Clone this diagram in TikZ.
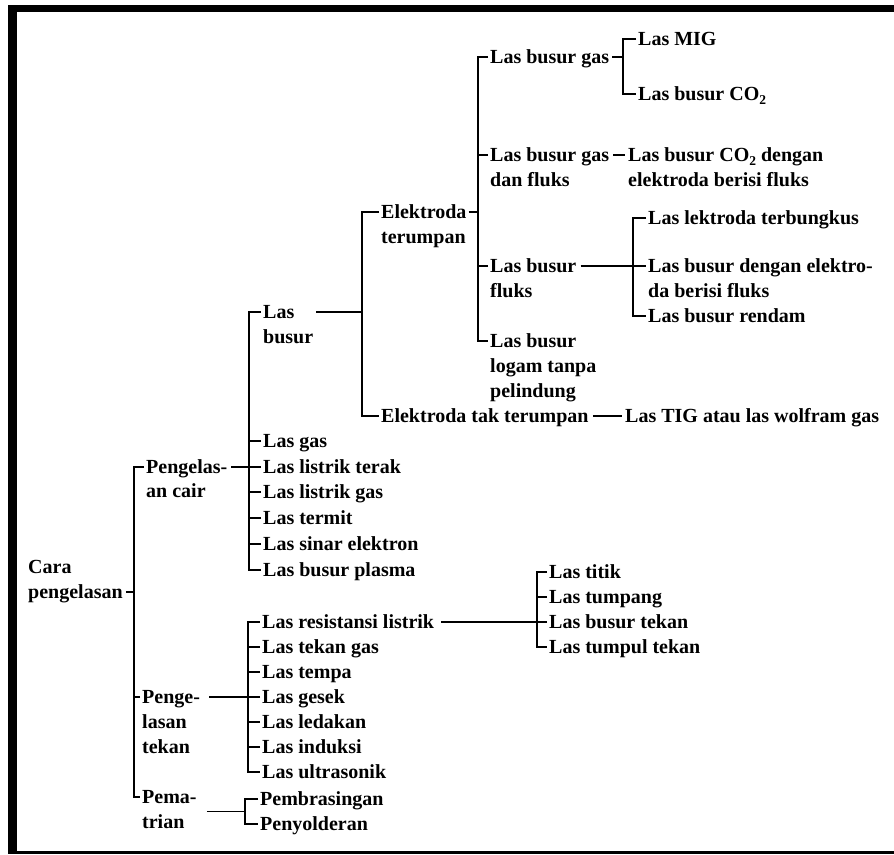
\documentclass[tikz,border=0pt]{standalone}
\usepackage{fontspec}
\setmainfont{Liberation Serif}
\usetikzlibrary{calc}
\newcommand{\cotwo}{CO\raisebox{-3.5pt}{\fontsize{13.5}{13.5}\selectfont 2}}
\begin{document}
\begin{tikzpicture}[x=1pt,y=-1pt,
  lbl/.style={anchor=west,inner sep=0pt,font=\bfseries\fontsize{20}{25}\selectfont,text height=13.5pt,text depth=0pt},
  ln/.style={line width=1.4pt}]
\useasboundingbox (0,0) rectangle (894,854);
\fill[white] (0,0) rectangle (894,854);
% frame
\fill[black] (8,5) rectangle (894,12);
\fill[black] (8,5) rectangle (17,854);
\fill[black] (17,851) rectangle (894,854);

% vertical line positions
\coordinate (v0) at (134,0);
\coordinate (v1) at (249,0);
\coordinate (v2) at (362,0);
\coordinate (v3) at (478,0);
\coordinate (v4) at (248,0);
\coordinate (v5) at (245,0);
\coordinate (v6) at (623,0);
\coordinate (v7) at (633,0);
\coordinate (v8) at (537,0);

% root
\node[lbl] (cara) at (28,567) {Cara};
\node[lbl] (peng) at (28,592) {pengelasan};

% level 1
\node[lbl] (pc1) at (146,467) {Pengelas-};
\node[lbl] (pc2) at (146,491) {an cair};
\node[lbl] (pt1) at (142,697) {Penge-};
\node[lbl] (pt2) at (142,722) {lasan};
\node[lbl] (pt3) at (142,747) {tekan};
\node[lbl] (pm1) at (142,797) {Pema-};
\node[lbl] (pm2) at (142,822) {trian};

% pengelasan cair children
\node[lbl] (lb1) at (263,312) {Las};
\node[lbl] (lb2) at (263,337) {busur};
\node[lbl] (lgas) at (263,441) {Las gas};
\node[lbl] (lterak) at (263,467) {Las listrik terak};
\node[lbl] (lgasl) at (263,492) {Las listrik gas};
\node[lbl] (ltermit) at (263,518) {Las termit};
\node[lbl] (lsinar) at (263,544) {Las sinar elektron};
\node[lbl] (lplasma) at (263,570) {Las busur plasma};

% pengelasan tekan children
\node[lbl] (lres) at (262,622) {Las resistansi listrik};
\node[lbl] (ltg) at (262,647) {Las tekan gas};
\node[lbl] (ltempa) at (262,672) {Las tempa};
\node[lbl] (lgesek) at (262,697) {Las gesek};
\node[lbl] (lledak) at (262,722) {Las ledakan};
\node[lbl] (linduk) at (262,747) {Las induksi};
\node[lbl] (lultra) at (262,772) {Las ultrasonik};

% pematrian children
\node[lbl] (pbr) at (260,799) {Pembrasingan};
\node[lbl] (pny) at (260,824) {Penyolderan};

% resistansi children
\node[lbl] (ltitik) at (549,572) {Las titik};
\node[lbl] (ltumpang) at (549,597) {Las tumpang};
\node[lbl] (lbt) at (549,622) {Las busur tekan};
\node[lbl] (ltt) at (549,647) {Las tumpul tekan};

% las busur children
\node[lbl] (et1) at (381,212) {Elektroda};
\node[lbl] (et2) at (381,237) {terumpan};
\node[lbl] (ett) at (381,416) {Elektroda tak terumpan};
\node[lbl] (tig) at (625,416) {Las TIG atau las wolfram gas};

% elektroda terumpan children
\node[lbl] (lbg) at (490,57) {Las busur gas};
\node[lbl] (mig) at (638,39) {Las MIG};
\node[lbl] (co2) at (638,94) {Las busur \cotwo};
\node[lbl] (lbgf1) at (490,155) {Las busur gas};
\node[lbl] (lbgf2) at (490,180) {dan fluks};
\node[lbl] (co2f1) at (628,155) {Las busur \cotwo\ dengan};
\node[lbl] (co2f2) at (628,180) {elektroda berisi fluks};
\node[lbl] (lbf1) at (490,266) {Las busur};
\node[lbl] (lbf2) at (490,291) {fluks};
\node[lbl] (lek) at (648,218) {Las lektroda terbungkus};
\node[lbl] (lbd1) at (648,266) {Las busur dengan elektro-};
\node[lbl] (lbd2) at (648,291) {da berisi fluks};
\node[lbl] (lrend) at (648,316) {Las busur rendam};
\node[lbl] (lbl1) at (490,341) {Las busur};
\node[lbl] (lbl2) at (490,366) {logam tanpa};
\node[lbl] (lbl3) at (490,391) {pelindung};

% ---------- connectors ----------
% root
\draw[ln] ([xshift=3pt]peng.east) -- (peng.east -| v0);
\draw[ln] ([xshift=-2pt]pc1.west) -- (pc1.west -| v0) -- (pm1.west -| v0) -- ([xshift=-2pt]pm1.west);
\draw[ln] ([xshift=-2pt]pt1.west) -- (pt1.west -| v0);

% pengelasan cair
\draw[ln] ([xshift=4pt]pc1.east) -- (pc1.east -| v1);
\draw[ln] ([xshift=-2pt]lb1.west) -- (lb1.west -| v1) -- (lplasma.west -| v1) -- ([xshift=-2pt]lplasma.west);
\foreach \n in {lgas,lterak,lgasl,ltermit,lsinar}
  \draw[ln] ([xshift=-2pt]\n.west) -- (\n.west -| v1);

% pengelasan tekan
\draw[ln] ([xshift=9pt]pt1.east) -- (pt1.east -| v4);
\draw[ln] ([xshift=-2pt]lres.west) -- (lres.west -| v4) -- (lultra.west -| v4) -- ([xshift=-2pt]lultra.west);
\foreach \n in {ltg,ltempa,lgesek,lledak,linduk}
  \draw[ln] ([xshift=-2pt]\n.west) -- (\n.west -| v4);

% pematrian
\coordinate (pmj) at ($(pbr.west)!0.5!(pny.west)$);
\coordinate (pms) at ([xshift=10pt]pm1.east);
\draw[ln] (pmj -| pms) -- (pmj -| v5);
\draw[ln] ([xshift=-2pt]pbr.west) -- (pbr.west -| v5) -- (pny.west -| v5) -- ([xshift=-2pt]pny.west);

% resistansi listrik
\draw[ln] ([xshift=7pt]lres.east) -- (lres.east -| v8);
\draw[ln] ([xshift=-2pt]ltitik.west) -- (ltitik.west -| v8) -- (ltt.west -| v8) -- ([xshift=-2pt]ltt.west);
\foreach \n in {ltumpang,lbt}
  \draw[ln] ([xshift=-2pt]\n.west) -- (\n.west -| v8);

% las busur
\coordinate (lbs) at ([xshift=3pt]lb2.east);
\draw[ln] (lb1.east -| lbs) -- (lb1.east -| v2);
\draw[ln] ([xshift=-2pt]et1.west) -- (et1.west -| v2) -- (ett.west -| v2) -- ([xshift=-2pt]ett.west);
\draw[ln] ([xshift=4pt]ett.east) -- ([xshift=-3pt]tig.west);

% elektroda terumpan
\draw[ln] ([xshift=2pt]et1.east) -- (et1.east -| v3);
\draw[ln] ([xshift=-2pt]lbg.west) -- (lbg.west -| v3) -- (lbl1.west -| v3) -- ([xshift=-2pt]lbl1.west);
\foreach \n in {lbgf1,lbf1}
  \draw[ln] ([xshift=-2pt]\n.west) -- (\n.west -| v3);

% las busur gas
\draw[ln] ([xshift=3pt]lbg.east) -- (lbg.east -| v6);
\draw[ln] ([xshift=-2pt]mig.west) -- (mig.west -| v6) -- (co2.west -| v6) -- ([xshift=-2pt]co2.west);

% las busur gas dan fluks
\draw[ln] ([xshift=4pt]lbgf1.east) -- ([xshift=-3pt]co2f1.west);

% las busur fluks
\draw[ln] ([xshift=4pt]lbf1.east) -- ([xshift=-2pt]lbd1.west);
\draw[ln] ([xshift=-2pt]lek.west) -- (lek.west -| v7) -- (lrend.west -| v7) -- ([xshift=-2pt]lrend.west);
\end{tikzpicture}
\end{document}
